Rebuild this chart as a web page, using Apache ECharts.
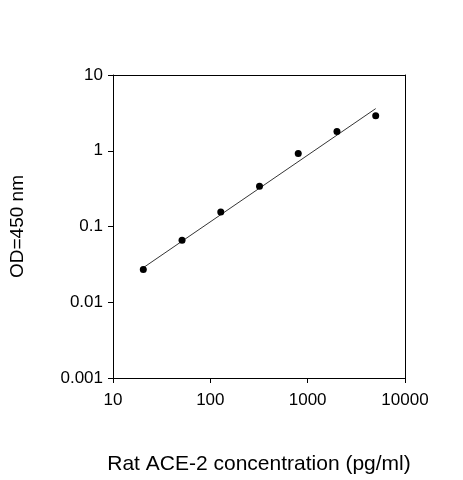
<!DOCTYPE html><html><head><meta charset="utf-8"><script src="https://cdn.jsdelivr.net/npm/echarts@6/dist/echarts.min.js"></script></head><body style="margin:0;background:#fff"><div id="c" style="width:463px;height:480px"></div><script>
const concentrations=[20.48,51.2,128,320,800,2000,5000];
const odValues=[0.027,0.066,0.155,0.34,0.92,1.79,2.9];
const fitX=[20,5000];
const fitY=[0.028,3.6];
const F='Liberation Sans, Arial, sans-serif';
const ax=(type,min,max)=>({type:'log',logBase:10,min,max,
 axisLine:{show:true,lineStyle:{color:'#000',width:1}},
 axisTick:{show:true,inside:false,length:5,lineStyle:{color:'#000'}},
 minorTick:{show:false},splitLine:{show:false},
 axisLabel:{color:'#000',fontSize:17,fontFamily:F,formatter:v=>String(+v.toPrecision(3))}});
const x=ax('x',10,10000);x.name='Rat ACE-2 concentration (pg/ml)';x.nameLocation='middle';x.nameGap=76;x.nameTextStyle={color:'#000',fontSize:21,fontFamily:F};x.axisLabel.margin=14;
const y=ax('y',0.001,10);y.name='OD=450 nm';y.nameLocation='middle';y.nameGap=86;y.nameTextStyle={color:'#000',fontSize:19,fontFamily:F};y.axisLabel.margin=10;
const x2={type:'log',min:10,max:10000,position:'top',axisLine:{show:true,lineStyle:{color:'#000'}},axisTick:{show:false},axisLabel:{show:false},splitLine:{show:false}};
const y2={type:'log',min:0.001,max:10,position:'right',axisLine:{show:true,lineStyle:{color:'#000'}},axisTick:{show:false},axisLabel:{show:false},splitLine:{show:false}};
echarts.init(document.getElementById('c')).setOption({animation:false,
 grid:{left:112,right:58,top:75,bottom:100},
 xAxis:[x,x2],yAxis:[y,y2],
 series:[
 {type:'line',data:fitX.map((v,i)=>[v,fitY[i]]),symbol:'none',lineStyle:{color:'#000',width:0.8}},
 {type:'scatter',data:concentrations.map((v,i)=>[v,odValues[i]]),symbolSize:7,itemStyle:{color:'#000',opacity:1}}
 ]});
</script></body></html>
